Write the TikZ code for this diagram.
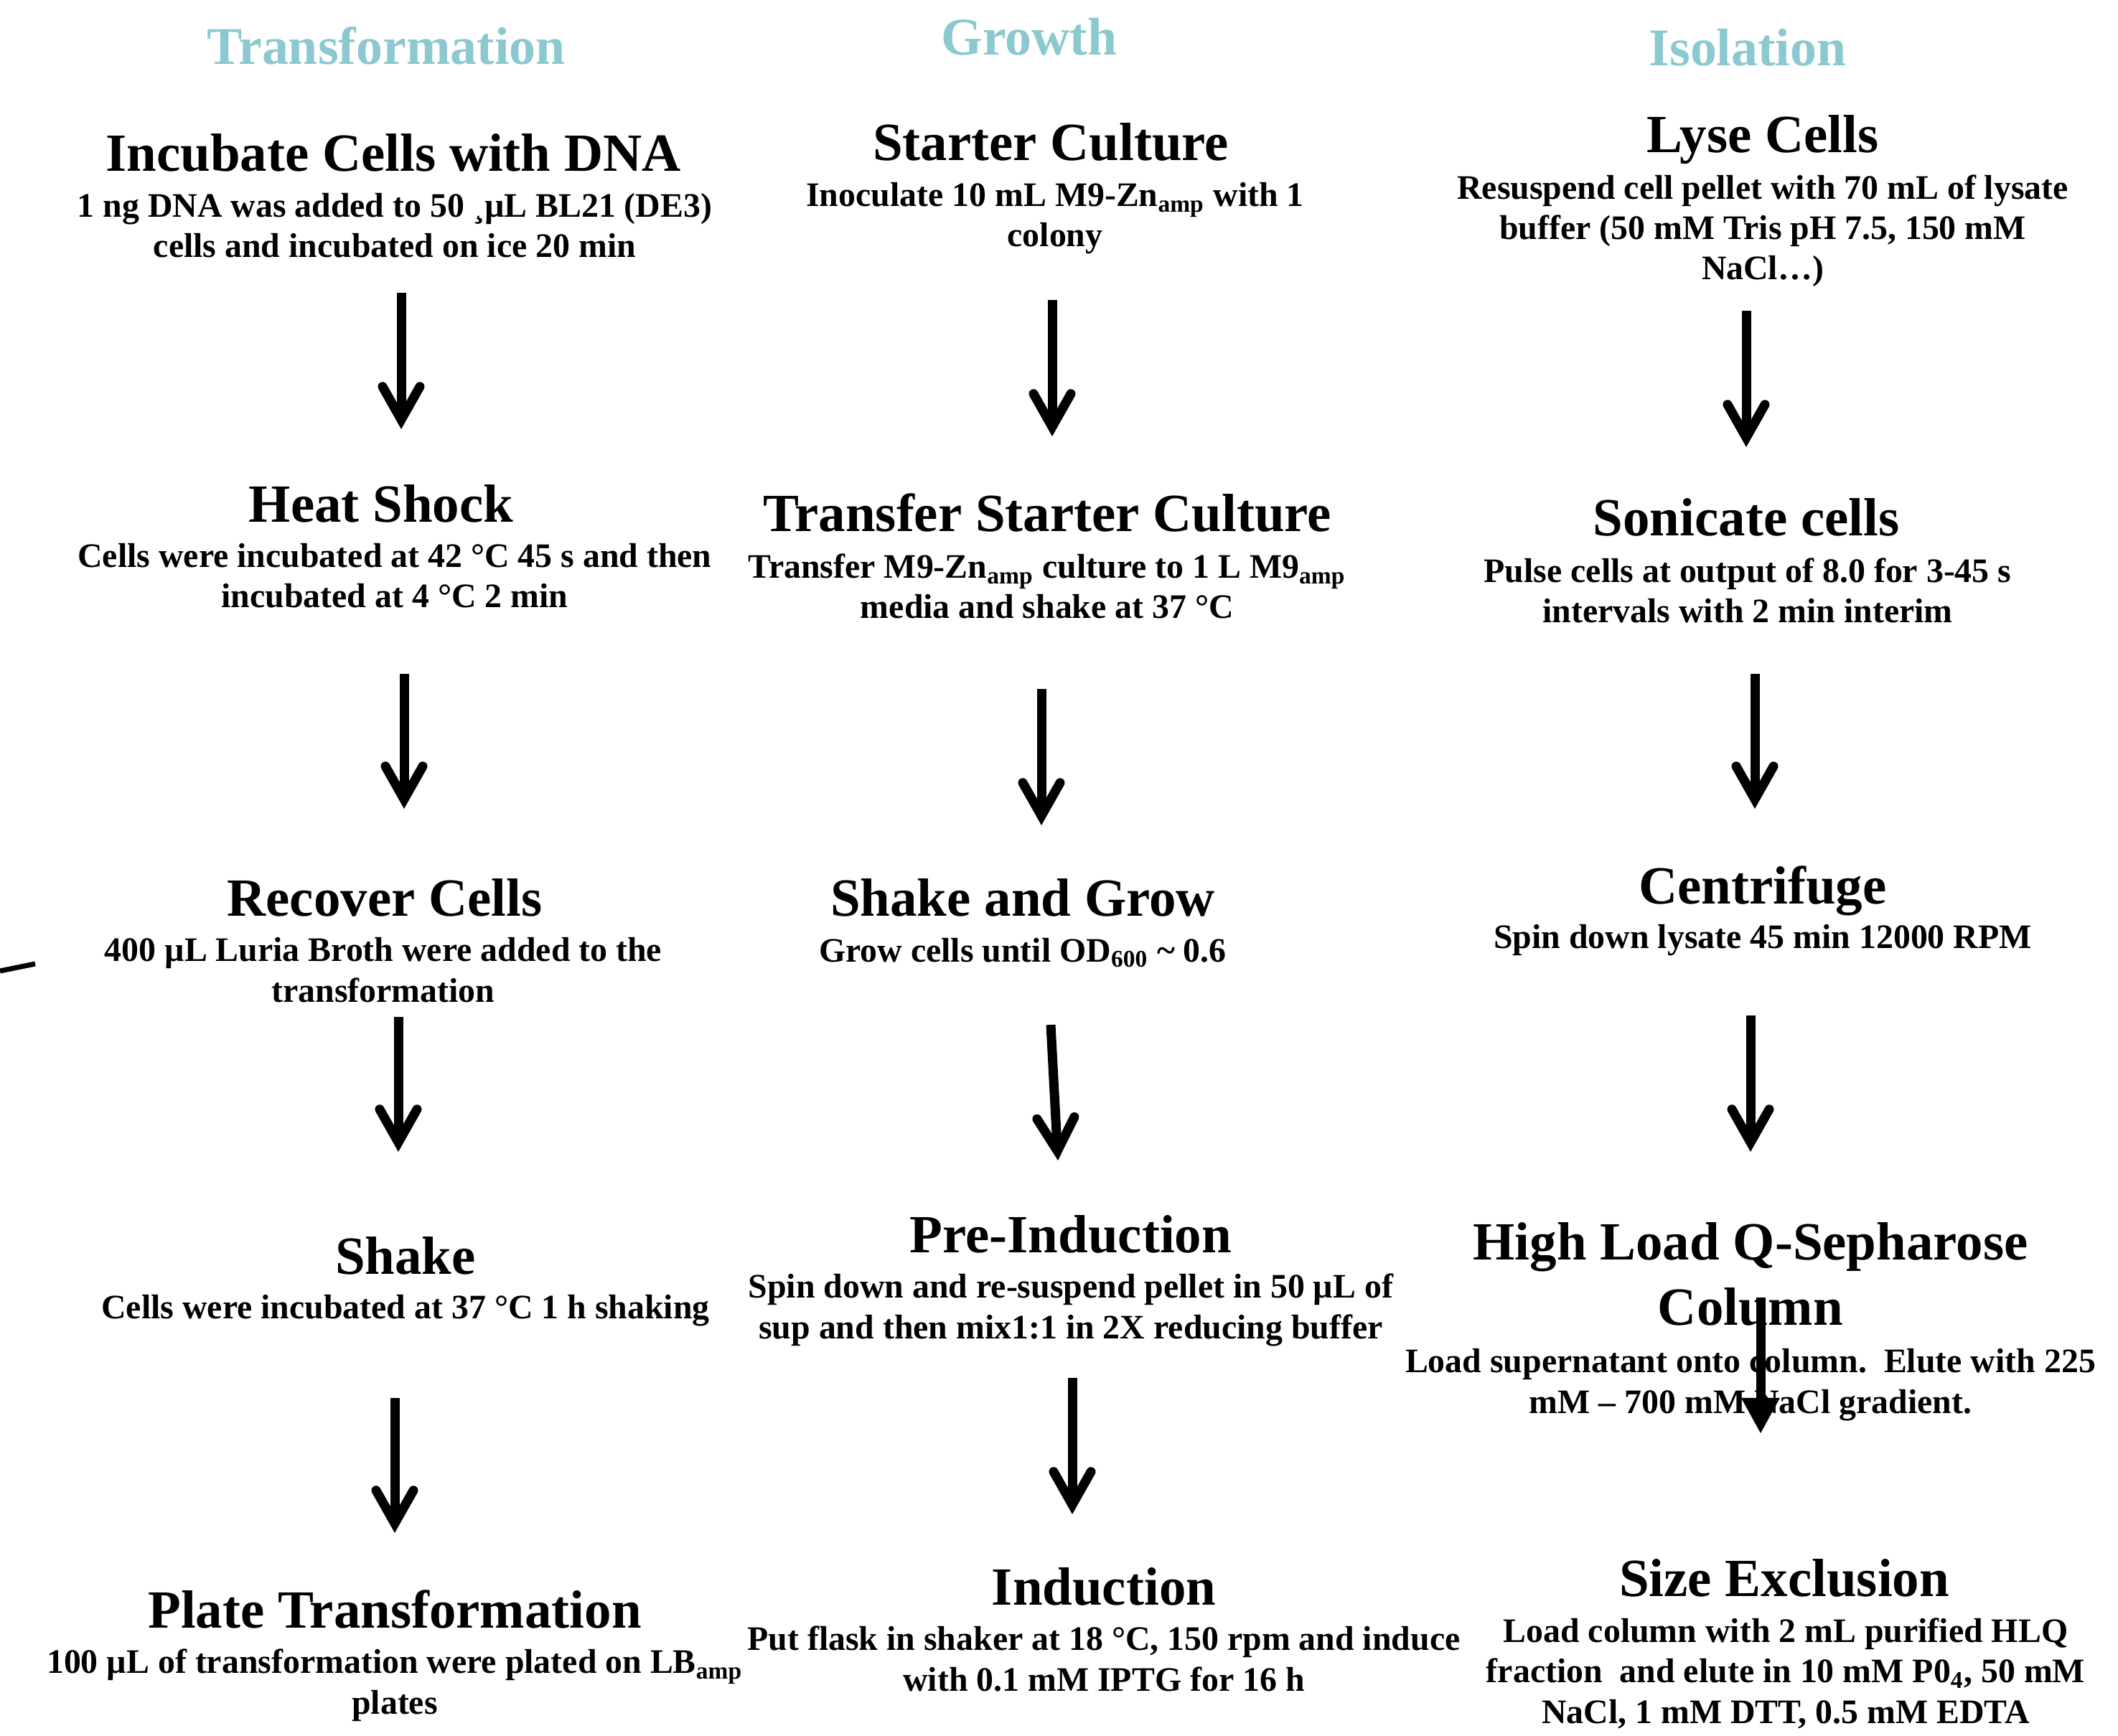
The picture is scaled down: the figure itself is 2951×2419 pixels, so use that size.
\documentclass[tikz,border=0pt]{standalone}
\usepackage{fontspec}
\setmainfont{Liberation Serif}
\usetikzlibrary{arrows.meta}
\definecolor{phaseteal}{RGB}{139,200,208}
\tikzstyle{phase}=[text=phaseteal, font=\bfseries\fontsize{21pt}{25pt}\selectfont, anchor=base, inner sep=0]
\tikzstyle{stage}=[font=\bfseries\fontsize{21.3pt}{25.6pt}\selectfont, anchor=base, align=center, inner sep=0]
\tikzstyle{detail}=[font=\bfseries\fontsize{13.6pt}{16pt}\selectfont, anchor=base, align=center, inner sep=0]
\tikzstyle{flow}=[line width=3.7pt, -{Straight Barb[line cap=round, line join=miter, length=4.6mm, width=5.2mm]}]
\tikzstyle{flow wedge}=[line width=3.7pt, -{Triangle[length=5mm, width=5mm]}]

\begin{document}
\begin{tikzpicture}[x=0.01cm, y=-0.01cm]
          \useasboundingbox (0,0) rectangle (2951,2419);

          % column headers
          \node[phase] (transformation) at (538, 90) {Transformation};
          \node[phase] (growth) at (1434, 77) {Growth};
          \node[phase] (isolation) at (2435, 92) {Isolation};

          % transformation (multi-line texts sit on their last line)
          \node[stage] (incubate_title) at (548, 239) {Incubate Cells with DNA};
          \node[detail] (incubate_text) at (550, 359) {1 ng DNA was added to 50 ¸µL BL21 (DE3)\\cells and incubated on ice 20 min};
          \node[stage] (heat_title) at (531, 728) {Heat Shock};
          \node[detail] (heat_text) at (550, 847) {Cells were incubated at 42 °C 45 s and then\\incubated at 4 °C 2 min};
          \node[stage] (recover_title) at (536, 1276) {Recover Cells};
          \node[detail] (recover_text) at (534, 1396) {400 µL Luria Broth were added to the\\transformation};
          \node[stage] (shake_title) at (565, 1775) {Shake};
          \node[detail] (shake_text) at (565, 1837) {Cells were incubated at 37 °C 1 h shaking};
          \node[stage] (plate_title) at (550, 2268) {Plate Transformation};
          \node[detail] (plate_text) at (550, 2388) {100 µL of transformation were plated on LB\textsubscript{amp}\\plates};

          % growth
          \node[stage] (starter_title) at (1464, 224) {Starter Culture};
          \node[detail] (starter_text) at (1470, 344) {Inoculate 10 mL M9-Zn\textsubscript{amp} with 1\\colony};
          \node[stage] (transfer_title) at (1459, 741) {Transfer Starter Culture};
          \node[detail] (transfer_text) at (1459, 862) {Transfer M9-Zn\textsubscript{amp} culture to 1 L M9\textsubscript{amp}\\media and shake at 37 °C};
          \node[stage] (grow_title) at (1425, 1276) {Shake and Grow};
          \node[detail] (grow_text) at (1425, 1340) {Grow cells until OD\textsubscript{600} \textasciitilde{} 0.6};
          \node[stage] (preinduction_title) at (1492, 1745) {Pre-Induction};
          \node[detail] (preinduction_text) at (1492, 1865) {Spin down and re-suspend pellet in 50 µL of\\sup and then mix1:1 in 2X reducing buffer};
          \node[stage] (induction_title) at (1538, 2236) {Induction};
          \node[detail] (induction_text) at (1538, 2356) {Put flask in shaker at 18 °C, 150 rpm and induce\\with 0.1 mM IPTG for 16 h};

          % isolation
          \node[stage] (lyse_title) at (2456, 213) {Lyse Cells};
          \node[detail] (lyse_text) at (2456, 390) {Resuspend cell pellet with 70 mL of lysate\\buffer (50 mM Tris pH 7.5, 150 mM\\NaCl…)};
          \node[stage] (sonicate_title) at (2433, 747) {Sonicate cells};
          \node[detail] (sonicate_text) at (2435, 868) {Pulse cells at output of 8.0 for 3-45 s\\intervals with 2 min interim};
          \node[stage] (centrifuge_title) at (2456, 1259) {Centrifuge};
          \node[detail] (centrifuge_text) at (2456, 1321) {Spin down lysate 45 min 12000 RPM};
          \node[stage] (column_title) at (2439, 1846) {High Load Q-Sepharose\\Column};
          \node[detail] (column_text) at (2439, 1969) {Load supernatant onto column.\ \ Elute with 225\\mM – 700 mM NaCl gradient.};
          \node[stage] (size_title) at (2486, 2224) {Size Exclusion};
          \node[detail] (size_text) at (2488, 2401) {Load column with 2 mL purified HLQ\\fraction\ \ and elute in 10 mM P0\textsubscript{4}, 50 mM\\NaCl, 1 mM DTT, 0.5 mM EDTA};

          % arrow ends
          \coordinate (incubate_out) at (559, 408);
          \coordinate (heat_in) at (559, 598);
          \coordinate (heat_out) at (563, 939);
          \coordinate (recover_in) at (563, 1127);
          \coordinate (recover_out) at (555, 1417);
          \coordinate (shake_in) at (555, 1605);
          \coordinate (shake_out) at (550, 1948);
          \coordinate (plate_in) at (550, 2136);
          \coordinate (starter_out) at (1466, 418);
          \coordinate (transfer_in) at (1466, 608);
          \coordinate (transfer_out) at (1451, 960);
          \coordinate (grow_in) at (1451, 1150);
          \coordinate (grow_out) at (1464, 1428);
          \coordinate (preinduction_in) at (1474, 1617);
          \coordinate (preinduction_out) at (1494, 1920);
          \coordinate (induction_in) at (1494, 2110);
          \coordinate (lyse_out) at (2433, 433);
          \coordinate (sonicate_in) at (2433, 623);
          \coordinate (sonicate_out) at (2445, 939);
          \coordinate (centrifuge_in) at (2445, 1127);
          \coordinate (centrifuge_out) at (2439, 1415);
          \coordinate (column_in) at (2439, 1605);
          \coordinate (column_out) at (2453, 1808);
          \coordinate (size_in) at (2453, 1998);
          \coordinate (stray_a) at (0, 1353);
          \coordinate (stray_b) at (49, 1343);

          \draw[flow] (incubate_out) -- (heat_in);
          \draw[flow] (heat_out) -- (recover_in);
          \draw[flow] (recover_out) -- (shake_in);
          \draw[flow] (shake_out) -- (plate_in);
          \draw[flow] (starter_out) -- (transfer_in);
          \draw[flow] (transfer_out) -- (grow_in);
          \draw[flow] (grow_out) -- (preinduction_in);
          \draw[flow] (preinduction_out) -- (induction_in);
          \draw[flow] (lyse_out) -- (sonicate_in);
          \draw[flow] (sonicate_out) -- (centrifuge_in);
          \draw[flow] (centrifuge_out) -- (column_in);
          \draw[flow wedge] (column_out) -- (size_in);
          \draw[line width=2pt] (stray_a) -- (stray_b);
        \end{tikzpicture}
\end{document}
